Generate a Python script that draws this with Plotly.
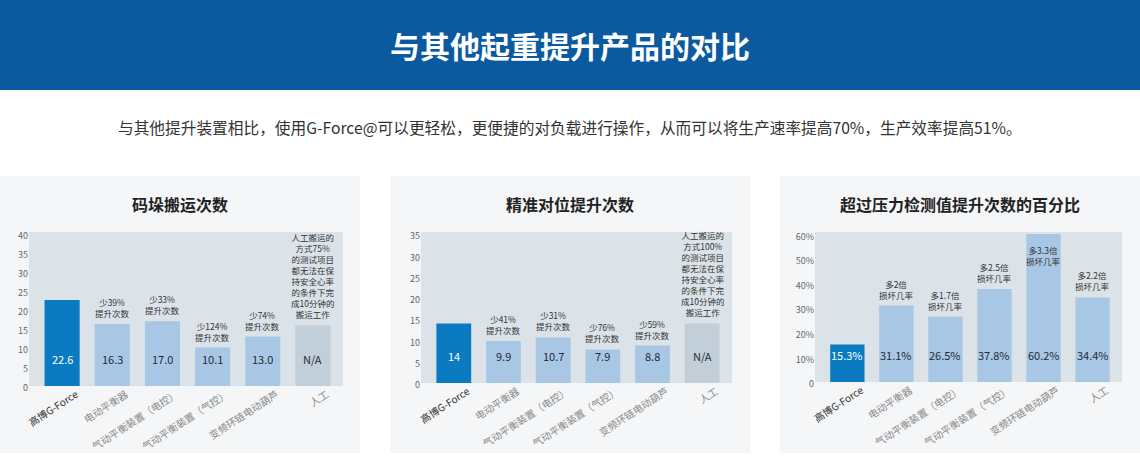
import plotly.graph_objects as go

W, H = 1140, 470

# categorias (iguais nos tres graficos)
categorias = ["高博G-Force", "电动平衡器", "气动平衡装置（电控）", "气动平衡装置（气控）", "变频环链电动葫芦", "人工"]

# grafico 1 - 码垛搬运次数
valores_1 = [22.6, 16.3, 17.0, 10.1, 13.0, 16]
rotulos_1 = ["22.6", "16.3", "17.0", "10.1", "13.0", "N/A"]
notas_1 = ["", "少39%<br>提升次数", "少33%<br>提升次数", "少124%<br>提升次数", "少74%<br>提升次数",
           "人工搬运的<br>方式75%<br>的测试项目<br>都无法在保<br>持安全心率<br>的条件下完<br>成10分钟的<br>搬运工作"]

# grafico 2 - 精准对位提升次数
valores_2 = [14, 9.9, 10.7, 7.9, 8.8, 14]
rotulos_2 = ["14", "9.9", "10.7", "7.9", "8.8", "N/A"]
notas_2 = ["", "少41%<br>提升次数", "少31%<br>提升次数", "少76%<br>提升次数", "少59%<br>提升次数",
           "人工搬运的<br>方式100%<br>的测试项目<br>都无法在保<br>持安全心率<br>的条件下完<br>成10分钟的<br>搬运工作"]

# grafico 3 - 超过压力检测值提升次数的百分比
valores_3 = [15.3, 31.1, 26.5, 37.8, 60.2, 34.4]
rotulos_3 = ["15.3%", "31.1%", "26.5%", "37.8%", "60.2%", "34.4%"]
notas_3 = ["", "多2倍<br>损坏几率", "多1.7倍<br>损坏几率", "多2.5倍<br>损坏几率", "多3.3倍<br>损坏几率", "多2.2倍<br>损坏几率"]

titulos = ["码垛搬运次数", "精准对位提升次数", "超过压力检测值提升次数的百分比"]
ticks_y3 = [0, 10, 20, 30, 40, 50, 60]
ticks_y3_txt = ["0", "10%", "20%", "30%", "40%", "50%", "60%"]

FONTE = "Noto Sans CJK SC, Noto Sans, sans-serif"
AZUL_FORTE = "#0b7bc1"
AZUL_CLARO = "#a8c7e5"
CINZA = "#c3cfd8"
FUNDO_GRAF = "#dbe3e9"

def px_x(v):
    return v / W

def px_y(v):
    return 1 - v / H

# geometria de cada painel: (area do grafico em px, painel de fundo, faixa do eixo y)
paineis = [
    dict(x0=29, x1=343, top=232, bot=386, bg0=0, bg1=360, yr=[0, 40.5], n_a=True),
    dict(x0=421, x1=732, top=232, bot=383, bg0=390, bg1=750, yr=[0, 35.5], n_a=True),
    dict(x0=815, x1=1122, top=232, bot=382, bg0=780, bg1=1140, yr=[0, 61], n_a=False),
]
dados = [(valores_1, rotulos_1, notas_1), (valores_2, rotulos_2, notas_2), (valores_3, rotulos_3, notas_3)]

fig = go.Figure()
annotations = []
shapes = []

# faixa azul do topo
shapes.append(dict(type="rect", xref="paper", yref="paper", x0=0, x1=1, y0=px_y(90), y1=1,
                   fillcolor="#0b5aa0", line=dict(width=0), layer="below"))
annotations.append(dict(text="<b>与其他起重提升产品的对比</b>", xref="paper", yref="paper", x=0.5, y=px_y(45),
                        xanchor="center", yanchor="middle", showarrow=False,
                        font=dict(size=30, color="white", family=FONTE)))
annotations.append(dict(text="与其他提升装置相比，使用G-Force@可以更轻松，更便捷的对负载进行操作，从而可以将生产速率提高70%，生产效率提高51%。",
                        xref="paper", yref="paper", x=0.5, y=px_y(127), xanchor="center", yanchor="middle",
                        showarrow=False, font=dict(size=15.7, color="#333333", family=FONTE)))

ticktext_x = ['<span style="color:#333333">' + categorias[0] + '</span>'] + categorias[1:]

for i, (p, (vals, rots, notas)) in enumerate(zip(paineis, dados)):
    sfx = "" if i == 0 else str(i + 1)
    xa, ya = "x" + sfx, "y" + sfx

    cores = [AZUL_FORTE] + [AZUL_CLARO] * 4 + [CINZA if p["n_a"] else AZUL_CLARO]
    fig.add_trace(go.Bar(x=categorias, y=vals, marker=dict(color=cores, line=dict(width=0)),
                         width=0.7, xaxis=xa, yaxis=ya, showlegend=False, hoverinfo="skip"))

    # fundo cinza do painel e fundo azulado da area do grafico
    shapes.append(dict(type="rect", xref="paper", yref="paper", x0=px_x(p["bg0"]), x1=px_x(p["bg1"]),
                       y0=px_y(453), y1=px_y(176), fillcolor="#f5f6f7", line=dict(width=0), layer="below"))
    shapes.append(dict(type="rect", xref=xa + " domain", yref=ya + " domain", x0=0, x1=1, y0=0, y1=1,
                       fillcolor=FUNDO_GRAF, line=dict(width=0), layer="below"))
    annotations.append(dict(text="<b>" + titulos[i] + "</b>", xref="paper", yref="paper",
                            x=px_x((p["bg0"] + p["bg1"]) / 2), y=px_y(204), xanchor="center", yanchor="middle",
                            showarrow=False, font=dict(size=16, color="#222222", family=FONTE)))

    for j, cat in enumerate(categorias):
        # valor dentro da barra
        annotations.append(dict(text=rots[j], x=cat, xref=xa, y=0, yref=ya + " domain", yshift=27,
                                showarrow=False, xanchor="center", yanchor="middle",
                                font=dict(size=11, color="white" if j == 0 else "#1c2b3a", family=FONTE)))
        if notas[j]:
            topo = p["yr"][1]
            if vals[j] > topo * 0.9:
                # barra chega no topo: nota vai dentro da barra
                annotations.append(dict(text=notas[j], x=cat, xref=xa, y=topo, yref=ya, yanchor="top",
                                        xanchor="center", yshift=-10, showarrow=False,
                                        font=dict(size=8.5, color="#333333", family=FONTE)))
            else:
                annotations.append(dict(text=notas[j], x=cat, xref=xa, y=vals[j], yref=ya, yanchor="bottom",
                                        xanchor="center", yshift=3, showarrow=False,
                                        font=dict(size=8.5, color="#333333", family=FONTE)))

    eixo_x = dict(domain=[px_x(p["x0"]), px_x(p["x1"])], anchor=ya, range=[-0.66, 5.6],
                  tickmode="array", tickvals=categorias, ticktext=ticktext_x, tickangle=-33,
                  ticklabelshift=14,
                  tickfont=dict(size=10, color="#888888", family=FONTE), showgrid=False,
                  showline=False, zeroline=False, ticks="", automargin=False)
    eixo_y = dict(domain=[px_y(p["bot"]), px_y(p["top"])], anchor=xa, range=p["yr"],
                  showgrid=False, zeroline=False, showline=False, ticks="", ticklabelshift=2,
                  tickfont=dict(size=9, color="#666666", family=FONTE), automargin=False)
    if i == 2:
        eixo_y.update(tickmode="array", tickvals=ticks_y3, ticktext=ticks_y3_txt)
    else:
        eixo_y.update(dtick=5)
    fig.update_layout({"xaxis" + sfx: eixo_x, "yaxis" + sfx: eixo_y})

fig.update_layout(
    width=W, height=H,
    margin=dict(l=0, r=0, t=0, b=0),
    paper_bgcolor="white",
    plot_bgcolor=FUNDO_GRAF,
    bargap=0.3,
    font=dict(family=FONTE),
    shapes=shapes,
    annotations=annotations,
)

# tira a margem padrao do body para a figura ocupar a janela toda
fig.write_html("out.html", config={"displayModeBar": False},
               post_script="document.body.style.margin='0';")
